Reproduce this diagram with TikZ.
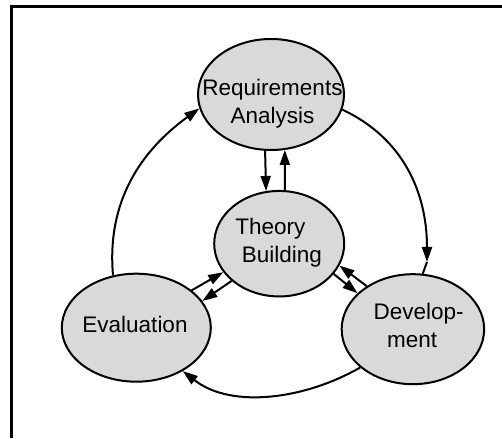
\documentclass[tikz,border=0pt]{standalone}
\usepackage{fontspec}
\setmainfont{Liberation Sans}
\usetikzlibrary{shapes.geometric,arrows.meta}
\begin{document}
\begin{tikzpicture}[x=1pt,y=1pt,>={Triangle[length=15pt,width=10pt]}]
        \tikzstyle{blob}=[ellipse,draw=black,line width=2pt,fill=black!15,inner sep=0pt]
        \tikzstyle{lbl}=[inner sep=0pt,font=\fontsize{22.5}{28}\selectfont]
        \tikzstyle{link}=[line width=2pt]

      \useasboundingbox (0,0) rectangle (502,438);
      \draw[line width=3pt] (11.5,0) -- (11.5,431.5) -- (502,431.5);

      \begin{scope}
         \node[blob,minimum width=146pt,minimum height=111pt] (req) at (271,343.5) {};
         \node[blob,minimum width=130pt,minimum height=105.5pt] (thy) at (279.2,194.3) {};
         \node[blob,minimum width=149pt,minimum height=108pt] (eva) at (136.3,110.3) {};
         \node[blob,minimum width=142.5pt,minimum height=110pt] (dev) at (412.9,108.8) {};

         \node[lbl,align=center] (reqtxt) at (272.5,334.8) {Requirements\\Analysis};
         \node[lbl,align=left,anchor=west] (thytxt) at (235.2,195.5) {Theory\\\hspace*{6.5pt}Building};
         \node[lbl] (evatxt) at (135,113.9) {Evaluation};
         \node[lbl,align=left,anchor=west] (devtxt) at (373.3,112.9) {Develop-\\\hspace*{13.5pt}ment};

         \draw[link,->] (req.264) -- (thy.104);
         \draw[link,->] (thy.84)  -- (req.284);
         \draw[link,->] (eva.34)  -- (thy.207);
         \draw[link,->] (thy.218) -- (eva.22);
         \draw[link,->] (thy.331) -- (dev.147);
         \draw[link,->] (dev.137) -- (thy.340);

         \coordinate (dtip) at (427,176);
         \draw[link,->] (eva.114) to[out=95,in=216] (req.191);
         \draw[link,->] (req.348) to[out=-25,in=90] (dtip);
         \draw[link]    (dtip) -- (dev.80);
         \draw[link,->] (dev.216) to[out=210,in=-38,looseness=0.9] (eva.317);
      \end{scope}
\end{tikzpicture}
\end{document}
